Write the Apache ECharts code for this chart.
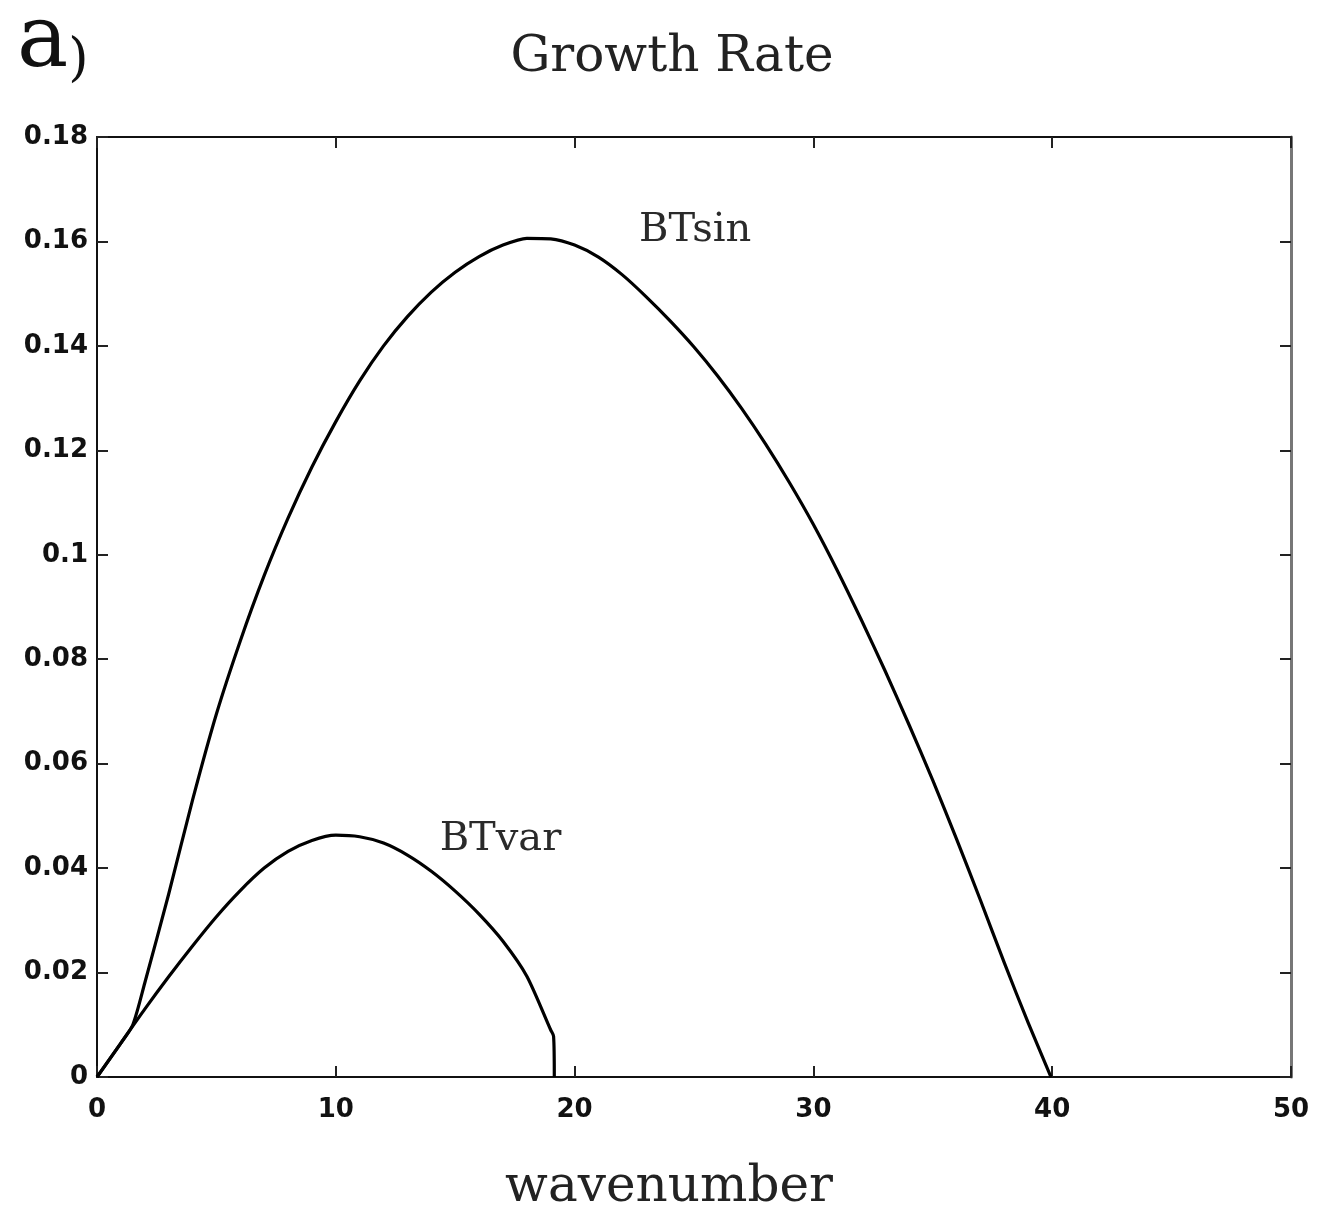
<!DOCTYPE html>
<html>
<head>
<meta charset="utf-8">
<title>Growth Rate</title>
<script src="https://cdn.jsdelivr.net/npm/echarts@6/dist/echarts.min.js"></script>
<style>
  html, body { margin: 0; padding: 0; background: #fff; overflow: hidden; }
  #chart { width: 1318px; height: 1211px; }
</style>
</head>
<body>
<div id="chart"></div>
<script>
// Growth rate vs wavenumber for the two basic states
const btSinK = [0, 1, 1.5, 2, 3, 4, 5, 6, 7, 8, 9, 10, 11, 12, 13, 14, 15, 16, 17, 18, 19, 20, 21, 22, 23, 24, 25, 26, 27, 28, 29, 30, 31, 32, 33, 34, 35, 36, 37, 38, 39, 39.95];
const btSinRate = [0, 0.0065, 0.0100, 0.018, 0.035, 0.053, 0.0695, 0.0835, 0.0960, 0.1070, 0.1168, 0.1255, 0.1333, 0.1400, 0.1456, 0.1503, 0.1541, 0.1571, 0.1593, 0.1606, 0.1605, 0.1593, 0.1570, 0.1536, 0.1494, 0.1448, 0.1398, 0.1342, 0.1280, 0.1212, 0.1138, 0.1058, 0.0970, 0.0876, 0.0778, 0.0675, 0.0568, 0.0455, 0.0338, 0.0218, 0.0103, 0];

const btVarK = [0, 1, 2, 3, 4, 5, 6, 7, 8, 9, 10, 11, 12, 13, 14, 15, 16, 17, 18, 19, 19.12, 19.15];
const btVarRate = [0, 0.0065, 0.0130, 0.0192, 0.0251, 0.0307, 0.0357, 0.0400, 0.0432, 0.0453, 0.0463, 0.0460, 0.0448, 0.0425, 0.0394, 0.0356, 0.0312, 0.0260, 0.0193, 0.0090, 0.0078, 0];

// Curve annotations: [wavenumber, growth rate] of each label's left-middle anchor
const curveNames = ['BTsin', 'BTvar'];
const curveLabelAt = [[22.7, 0.1620], [14.35, 0.0455]];

const xTicks = [0, 10, 20, 30, 40, 50];
const yTicks = [0, 0.02, 0.04, 0.06, 0.08, 0.1, 0.12, 0.14, 0.16, 0.18];

const pairs = (xs, ys) => xs.map((x, i) => [x, ys[i]]);

const chart = echarts.init(document.getElementById('chart'), null, { renderer: 'canvas' });

const tickFont = { fontFamily: 'DejaVu Sans, sans-serif', fontWeight: 'bold', fontSize: 26, color: '#111' };
const innerTick = { inside: true, length: 11, lineStyle: { color: '#222', width: 2 } };
const frame = (color, width) => ({ onZero: false, lineStyle: { color, width } });

chart.setOption({
  animation: false,
  backgroundColor: '#fff',
  title: [
    {
      text: 'Growth Rate',
      left: 667, top: 28, textAlign: 'center',
      textStyle: { fontFamily: 'DejaVu Serif, serif', fontWeight: 'normal', fontSize: 50, color: '#222' }
    },
    {
      text: '{a|a}{p|)}',
      left: 12, top: -4,
      textStyle: {
        fontWeight: 'normal',
        rich: {
          a: { fontFamily: 'DejaVu Serif, serif', fontWeight: 'normal', fontSize: 86, color: '#111', verticalAlign: 'bottom' },
          p: { fontFamily: 'DejaVu Serif, serif', fontWeight: 'normal', fontSize: 52, color: '#111', verticalAlign: 'bottom' }
        }
      }
    }
  ],
  grid: { left: 97, right: 27, top: 137, bottom: 134, containLabel: false, outerBoundsMode: 'none' },
  xAxis: [
    {
      type: 'value', min: xTicks[0], max: xTicks[xTicks.length - 1], interval: 10,
      position: 'bottom',
      axisLine: frame('#111', 2), axisTick: innerTick, splitLine: { show: false },
      axisLabel: Object.assign({ margin: 20, formatter: v => String(v) }, tickFont),
      name: 'wavenumber', nameLocation: 'middle', nameGap: 86,
      nameTextStyle: { fontFamily: 'DejaVu Serif, serif', fontSize: 50, color: '#222', padding: [0, 50, 0, 0] }
    },
    {
      type: 'value', min: xTicks[0], max: xTicks[xTicks.length - 1], interval: 10,
      position: 'top',
      axisLine: frame('#111', 2), axisTick: innerTick, axisLabel: { show: false }, splitLine: { show: false }
    }
  ],
  yAxis: [
    {
      type: 'value', min: yTicks[0], max: yTicks[yTicks.length - 1], interval: 0.02,
      position: 'left',
      axisLine: frame('#111', 2), axisTick: innerTick, splitLine: { show: false },
      axisLabel: Object.assign({
        margin: 9,
        formatter: v => {
          const t = yTicks.find(k => Math.abs(k - v) < 1e-9);
          return t === undefined ? '' : String(t);
        }
      }, tickFont)
    },
    {
      type: 'value', min: yTicks[0], max: yTicks[yTicks.length - 1], interval: 0.02,
      position: 'right',
      axisLine: frame('#777', 3), axisTick: innerTick, axisLabel: { show: false }, splitLine: { show: false }
    }
  ],
  series: [
    {
      name: 'BTsin', type: 'line', data: pairs(btSinK, btSinRate),
      showSymbol: false, smooth: 0.25, clip: true,
      lineStyle: { color: '#000', width: 3.2, join: 'round' }
    },
    {
      name: 'BTvar', type: 'line', data: pairs(btVarK, btVarRate),
      showSymbol: false, smooth: 0.25, clip: true,
      lineStyle: { color: '#000', width: 3.2, join: 'round' }
    },
    {
      name: 'labels', type: 'scatter', symbolSize: 0, silent: true,
      itemStyle: { opacity: 1, color: '#222' },
      data: curveLabelAt.map((p, i) => ({ value: p, name: curveNames[i] })),
      label: {
        show: true, position: 'right', distance: 0,
        formatter: p => p.name,
        fontFamily: 'DejaVu Serif, serif', fontSize: 40, color: '#2a2a2a', opacity: 1
      }
    }
  ]
});
</script>
</body>
</html>
